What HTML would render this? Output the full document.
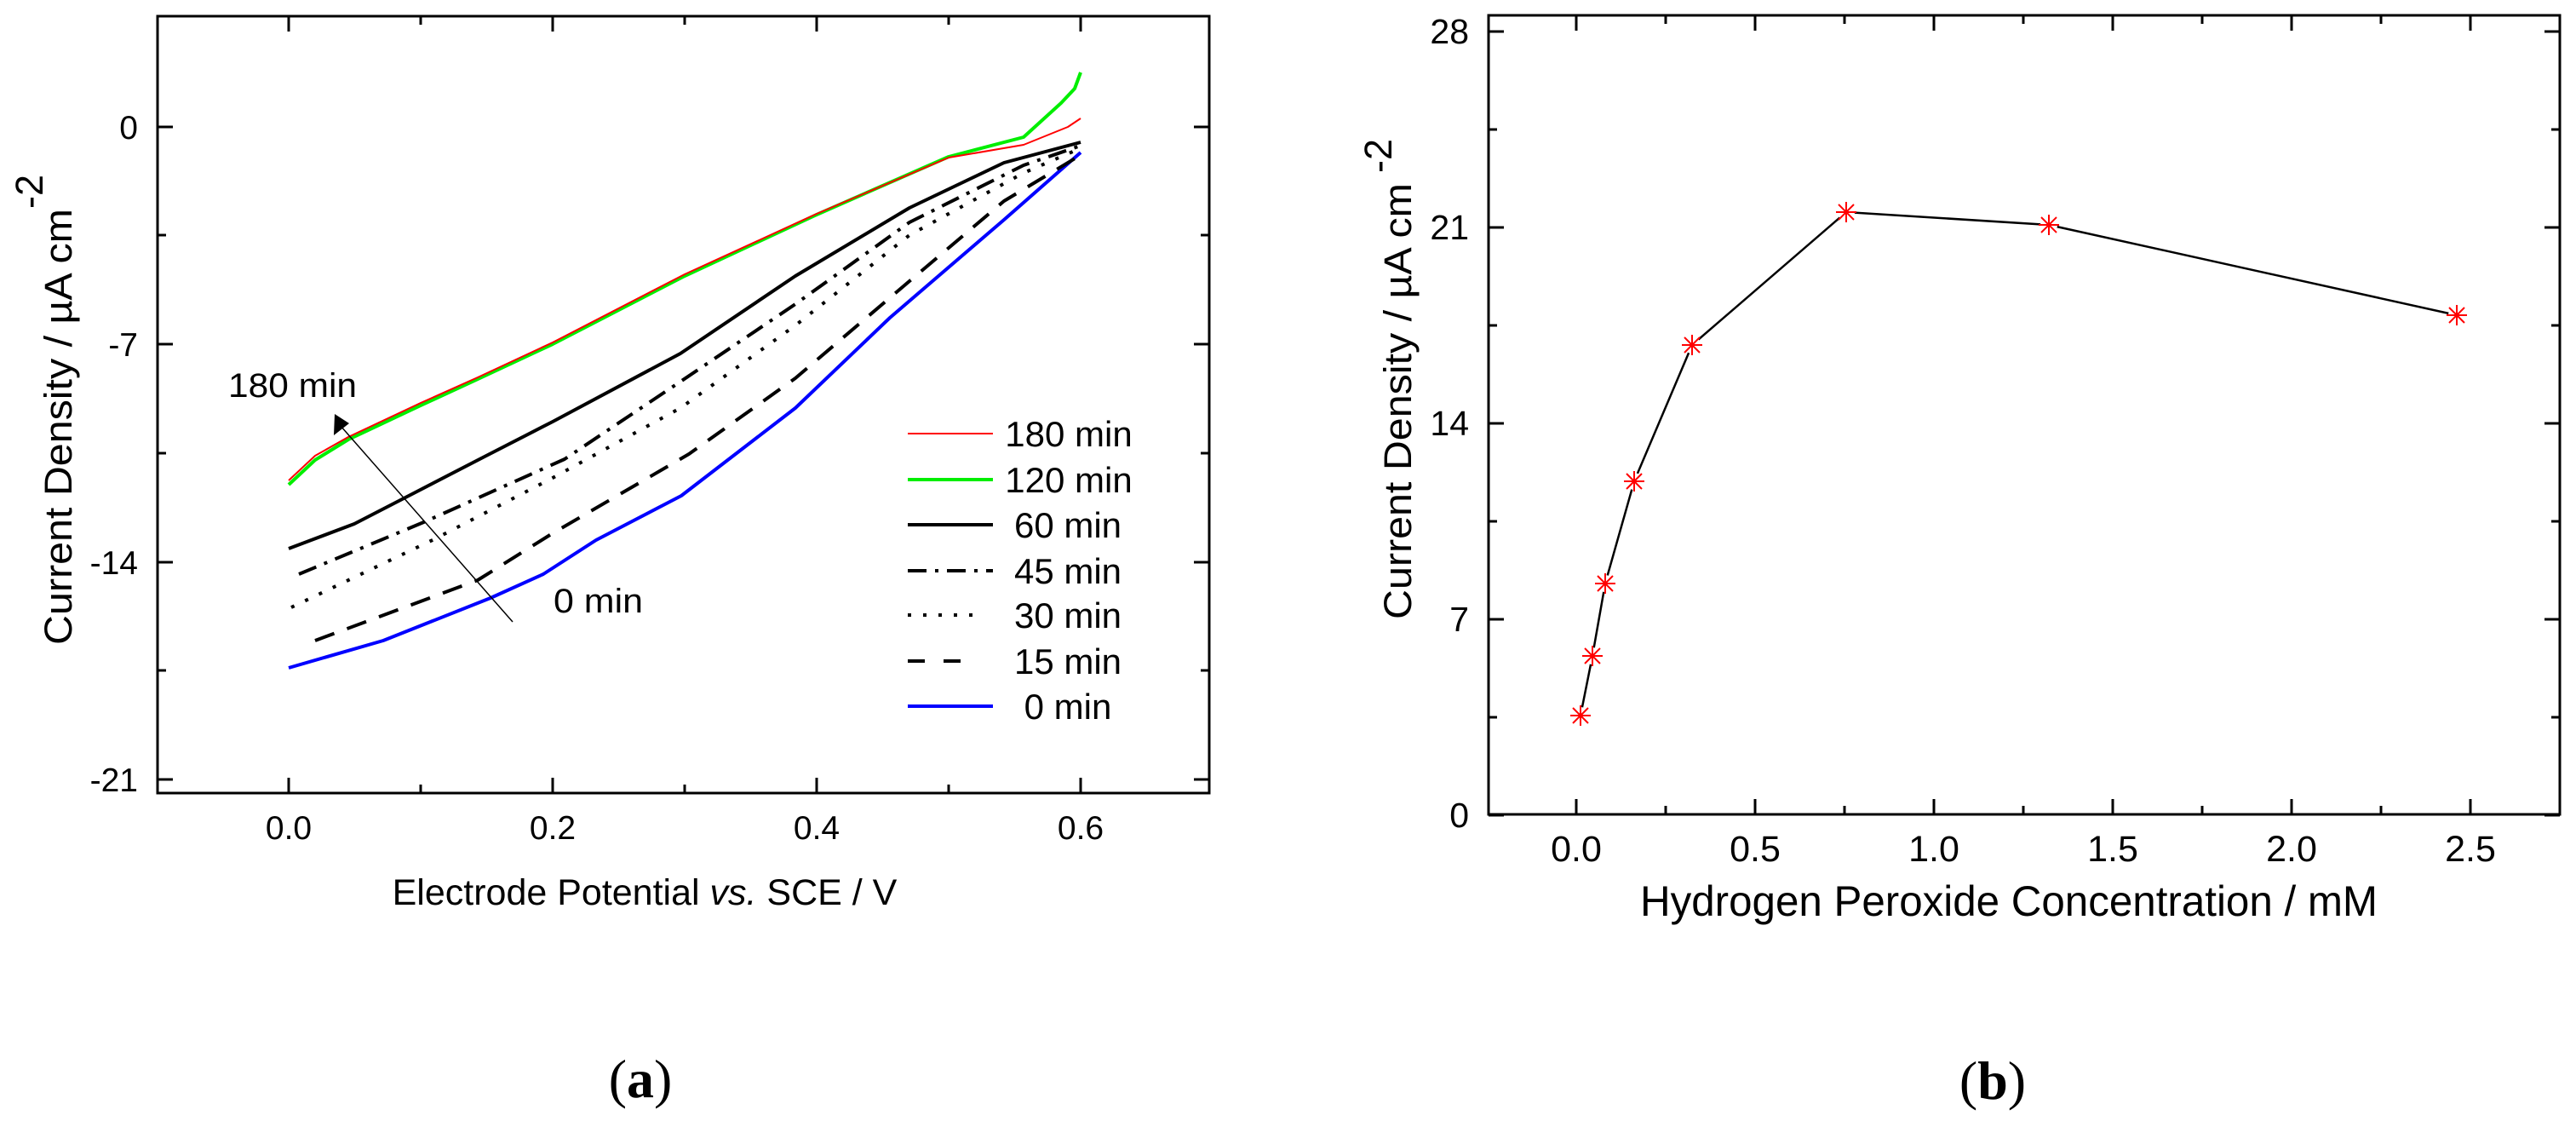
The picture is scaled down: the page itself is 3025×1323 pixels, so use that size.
<!DOCTYPE html>
<html><head><meta charset="utf-8"><style>html,body{margin:0;padding:0;background:#fff}svg{display:block}</style></head>
<body>
<svg width="3025" height="1323" viewBox="0 0 3025 1323" xmlns="http://www.w3.org/2000/svg" font-family="Liberation Sans, Arial, sans-serif">
<!-- ============ Plot (a) ============ -->
<g stroke="#000" stroke-width="3" fill="none">
<rect x="185" y="19" width="1235" height="912"/>
<!-- bottom ticks -->
<path d="M339 931v-18M494 931v-10M649 931v-18M804 931v-10M959 931v-18M1114 931v-10M1269 931v-18"/>
<path d="M339 19v18M494 19v10M649 19v18M804 19v10M959 19v18M1114 19v10M1269 19v18"/>
<!-- left ticks -->
<path d="M185 149h18M185 276h10M185 404h18M185 532h10M185 660h18M185 787h10M185 915h18"/>
<path d="M1420 149h-18M1420 276h-10M1420 404h-18M1420 532h-10M1420 660h-18M1420 787h-10M1420 915h-18"/>
</g>
<g font-size="39" text-anchor="end">
<text x="162" y="163">0</text>
<text x="162" y="418">-7</text>
<text x="162" y="674">-14</text>
<text x="162" y="929">-21</text>
</g>
<g font-size="39" text-anchor="middle">
<text x="339" y="985">0.0</text>
<text x="649" y="985">0.2</text>
<text x="959" y="985">0.4</text>
<text x="1269" y="985">0.6</text>
</g>
<text x="757" y="1062" font-size="43" text-anchor="middle">Electrode Potential <tspan font-style="italic">vs.</tspan> SCE / V</text>
<text transform="translate(84,757) rotate(-90)" font-size="45" textLength="512" lengthAdjust="spacingAndGlyphs">Current Density / µA cm</text>
<text transform="translate(50,245) rotate(-90)" font-size="45">-2</text>

<!-- curves -->
<g fill="none" stroke-linejoin="round">
<polyline stroke="#0000ff" stroke-width="4" points="339,784 450,752 576,702 638,674 700,634 800,582 934,479 1045,373 1179,258 1269,179"/>
<polyline stroke="#000" stroke-width="4" stroke-dasharray="24 16" points="370,752 561,681 649,626 809,533 934,444 1068,330 1179,236 1269,182"/>
<polyline stroke="#000" stroke-width="4" stroke-dasharray="4 14" points="342,713 510,633 649,561 799,479 934,382 1068,276 1202,203 1269,174"/>
<polyline stroke="#000" stroke-width="4" stroke-dasharray="22 10 4 10" points="351,674 500,612 663,539 799,448 934,357 1068,261 1202,194 1269,171"/>
<polyline stroke="#000" stroke-width="4" points="339,644 416,615 480,582 571,535 649,495 799,415 934,324 1068,244 1179,191 1269,167"/>
<polyline stroke="#00ee00" stroke-width="4" points="339,569 370,540 409,516 494,476 561,445 649,404 804,324 959,252 1114,184 1202,161 1246,121 1262,104 1269,85"/>
<polyline stroke="#ff0000" stroke-width="2" points="339,564 370,535 409,513 494,473 561,443 649,402 804,322 959,251 1114,185 1202,170 1254,149 1269,139"/>
</g>
<!-- arrow -->
<line x1="602" y1="730" x2="400" y2="500" stroke="#000" stroke-width="1.5"/>
<polygon points="393,486 392,511 410,497" fill="#000"/>
<text x="268" y="466" font-size="40" textLength="151" lengthAdjust="spacingAndGlyphs">180 min</text>
<text x="650" y="719" font-size="40" textLength="105" lengthAdjust="spacingAndGlyphs">0 min</text>
<!-- legend -->
<g fill="none">
<line x1="1066" y1="509" x2="1166" y2="509" stroke="#ff0000" stroke-width="2"/>
<line x1="1066" y1="563" x2="1166" y2="563" stroke="#00ee00" stroke-width="4"/>
<line x1="1066" y1="616" x2="1166" y2="616" stroke="#000" stroke-width="4"/>
<line x1="1066" y1="670" x2="1166" y2="670" stroke="#000" stroke-width="4" stroke-dasharray="22 10 4 10"/>
<line x1="1066" y1="722" x2="1156" y2="722" stroke="#000" stroke-width="4" stroke-dasharray="4 14"/>
<line x1="1066" y1="776" x2="1132" y2="776" stroke="#000" stroke-width="4" stroke-dasharray="20 22"/>
<line x1="1066" y1="829" x2="1166" y2="829" stroke="#0000ff" stroke-width="4"/>
</g>
<g font-size="42" text-anchor="middle">
<text x="1255" y="524">180 min</text>
<text x="1255" y="578">120 min</text>
<text x="1254" y="631">60 min</text>
<text x="1254" y="685">45 min</text>
<text x="1254" y="737">30 min</text>
<text x="1254" y="791">15 min</text>
<text x="1254" y="844">0 min</text>
</g>
<text x="752" y="1288" font-size="64" font-family="Liberation Serif, serif" text-anchor="middle">(<tspan font-weight="bold">a</tspan>)</text>

<!-- ============ Plot (b) ============ -->
<g stroke="#000" stroke-width="3" fill="none">
<rect x="1748" y="18" width="1258" height="938"/>
<path d="M1851 956v-18M1956 956v-10M2061 956v-18M2166 956v-10M2271 956v-18M2376 956v-10M2481 956v-18M2586 956v-10M2691 956v-18M2796 956v-10M2901 956v-18"/>
<path d="M1851 18v18M1956 18v10M2061 18v18M2166 18v10M2271 18v18M2376 18v10M2481 18v18M2586 18v10M2691 18v18M2796 18v10M2901 18v18"/>
<path d="M1748 957h18M1748 842h10M1748 727h18M1748 612h10M1748 497h18M1748 382h10M1748 267h18M1748 152h10M1748 37h18"/>
<path d="M3006 957h-18M3006 842h-10M3006 727h-18M3006 612h-10M3006 497h-18M3006 382h-10M3006 267h-18M3006 152h-10M3006 37h-18"/>
</g>
<g font-size="41" text-anchor="end">
<text x="1725" y="971">0</text>
<text x="1725" y="741">7</text>
<text x="1725" y="511">14</text>
<text x="1725" y="281">21</text>
<text x="1725" y="51">28</text>
</g>
<g font-size="43" text-anchor="middle">
<text x="1851" y="1011">0.0</text>
<text x="2061" y="1011">0.5</text>
<text x="2271" y="1011">1.0</text>
<text x="2481" y="1011">1.5</text>
<text x="2691" y="1011">2.0</text>
<text x="2901" y="1011">2.5</text>
</g>
<text x="2359" y="1075" font-size="50" text-anchor="middle" textLength="866" lengthAdjust="spacingAndGlyphs">Hydrogen Peroxide Concentration / mM</text>
<text transform="translate(1657,727) rotate(-90)" font-size="45" textLength="512" lengthAdjust="spacingAndGlyphs">Current Density / µA cm</text>
<text transform="translate(1634,203) rotate(-90)" font-size="45">-2</text>
<polyline fill="none" stroke="#000" stroke-width="2.5" points="1856,840 1870,770 1885,685 1919,565 1987,405 2168,249 2406,264 2885,370"/>
<g id="mk" stroke="#ff0000" stroke-width="2" fill="none">
<g transform="translate(1856,840)"><circle r="10" fill="#fff" stroke="none"/><path d="M-12 0h24M0 -12v24M-9 -9l18 18M-9 9l18 -18"/></g>
<g transform="translate(1870,770)"><circle r="10" fill="#fff" stroke="none"/><path d="M-12 0h24M0 -12v24M-9 -9l18 18M-9 9l18 -18"/></g>
<g transform="translate(1885,685)"><circle r="10" fill="#fff" stroke="none"/><path d="M-12 0h24M0 -12v24M-9 -9l18 18M-9 9l18 -18"/></g>
<g transform="translate(1919,565)"><circle r="10" fill="#fff" stroke="none"/><path d="M-12 0h24M0 -12v24M-9 -9l18 18M-9 9l18 -18"/></g>
<g transform="translate(1987,405)"><circle r="10" fill="#fff" stroke="none"/><path d="M-12 0h24M0 -12v24M-9 -9l18 18M-9 9l18 -18"/></g>
<g transform="translate(2168,249)"><circle r="10" fill="#fff" stroke="none"/><path d="M-12 0h24M0 -12v24M-9 -9l18 18M-9 9l18 -18"/></g>
<g transform="translate(2406,264)"><circle r="10" fill="#fff" stroke="none"/><path d="M-12 0h24M0 -12v24M-9 -9l18 18M-9 9l18 -18"/></g>
<g transform="translate(2885,370)"><circle r="10" fill="#fff" stroke="none"/><path d="M-12 0h24M0 -12v24M-9 -9l18 18M-9 9l18 -18"/></g>
</g>
<text x="2340" y="1290" font-size="64" font-family="Liberation Serif, serif" text-anchor="middle">(<tspan font-weight="bold">b</tspan>)</text>
</svg>
</body></html>
